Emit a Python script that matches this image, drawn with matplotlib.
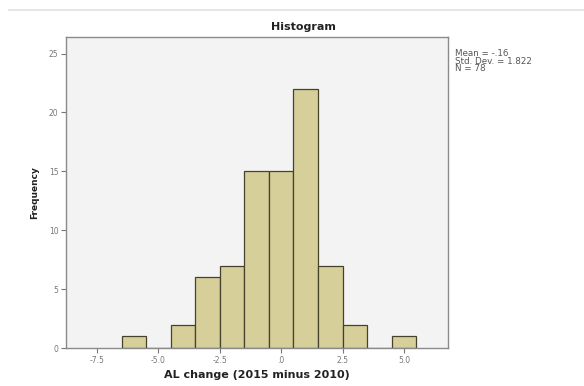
import numpy as np
import matplotlib.pyplot as plt
from matplotlib.lines import Line2D

# Histogram bins (centres, width 1) and counts
bin_edges = [-6.5, -5.5, -4.5, -3.5, -2.5, -1.5, -0.5, 0.5, 1.5, 2.5, 3.5, 4.5, 5.5]
counts = [1, 0, 2, 6, 7, 15, 15, 22, 7, 2, 0, 1]
x_ticks = [-7.5, -5.0, -2.5, 0.0, 2.5, 5.0]
x_tick_labels = ["-7.5", "-5.0", "-2.5", ".0", "2.5", "5.0"]
y_ticks = [0, 5, 10, 15, 20, 25]
stats_text = "Mean = -.16\nStd. Dev. = 1.822\nN = 78"

fig = plt.figure(figsize=(5.84, 3.86), dpi=100)
ax = fig.add_axes([0.113, 0.098, 0.654, 0.806])
ax.set_facecolor("#f3f3f4")

left = np.array(bin_edges[:-1])
widths = np.diff(bin_edges)
ax.bar(left, counts, width=widths, align="edge", color="#d6cf9a",
       edgecolor="#45412c", linewidth=0.9)

ax.set_xlim(-8.76, 6.79)
ax.set_ylim(0, 26.4)
ax.set_xticks(x_ticks)
ax.set_xticklabels(x_tick_labels)
ax.set_yticks(y_ticks)
ax.tick_params(axis="both", direction="out", length=3.5, width=0.8,
               colors="#777777", labelsize=5.5, pad=2)

for s in ax.spines.values():
    s.set_color("#8a8a8a")
    s.set_linewidth(1.0)

ax.set_xlabel("AL change (2015 minus 2010)", fontsize=8, fontweight="bold",
              color="#222222", labelpad=4)
ax.set_ylabel("Frequency", fontsize=6.5, fontweight="bold", color="#222222",
              labelpad=7)

fig.text(0.519, 0.93, "Histogram", ha="center", va="center",
         fontsize=8, fontweight="bold", color="#222222")
fig.text(0.779, 0.872, stats_text, ha="left", va="top", fontsize=6.3,
         color="#555555", linespacing=0.78)

# thin grey rule at the top of the image
fig.add_artist(Line2D([0.015, 1.0], [0.974, 0.974], color="#e0e0e0",
                      linewidth=1.2, transform=fig.transFigure))

plt.savefig("out.png", dpi=100)
